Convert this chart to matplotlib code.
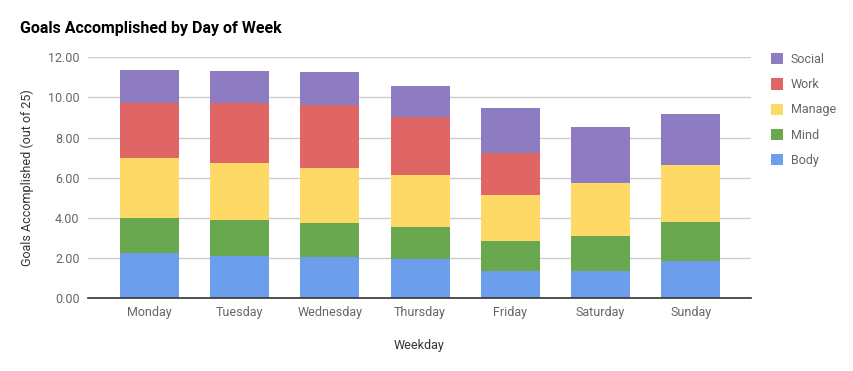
import matplotlib
matplotlib.use("Agg")
import matplotlib.pyplot as plt
from matplotlib.patches import Patch
import numpy as np

days = ["Monday", "Tuesday", "Wednesday", "Thursday", "Friday", "Saturday", "Sunday"]
body = [2.26, 2.11, 2.06, 1.93, 1.36, 1.36, 1.86]
mind = [1.74, 1.79, 1.69, 1.62, 1.50, 1.75, 1.94]
manage = [2.99, 2.84, 2.75, 2.60, 2.29, 2.60, 2.84]
work = [2.74, 2.96, 3.13, 2.89, 2.09, 0.02, 0.00]
social = [1.65, 1.63, 1.65, 1.54, 2.25, 2.81, 2.55]

series = [("Body", body, "#6d9eeb"), ("Mind", mind, "#6aa84f"),
          ("Manage", manage, "#ffd966"), ("Work", work, "#e06666"),
          ("Social", social, "#8e7cc3")]
yticks = [0, 2, 4, 6, 8, 10, 12]

plt.rcParams['font.family'] = ['Roboto', 'DejaVu Sans']

fig = plt.figure(figsize=(8.54, 3.71), dpi=100)
ax = fig.add_axes([88/854, 1-298/371, (751-88)/854, (298-57.3)/371])

x = np.arange(len(days))
bottom = np.zeros(len(days))
for name, vals, col in series:
    v = np.array(vals)
    ax.bar(x, v, bottom=bottom, width=0.655, color=col, label=name, zorder=2, linewidth=0)
    bottom += v

ax.set_xlim(-0.682, 6.67)
ax.set_ylim(0, 12)
ax.set_yticks(yticks)
ax.set_yticklabels([f"{t:.2f}" for t in yticks])
ax.set_xticks(x)
ax.set_xticklabels(days)
ax.grid(axis='y', color='#cccccc', linewidth=1, zorder=0)
for s in ['top', 'right', 'left']:
    ax.spines[s].set_visible(False)
ax.spines['bottom'].set_color('#333333')
ax.spines['bottom'].set_linewidth(1.2)
ax.spines['bottom'].set_zorder(3)
ax.tick_params(axis='both', length=0, labelcolor='#666666', labelsize=9)
ax.tick_params(axis='y', pad=6)
ax.tick_params(axis='x', pad=6)

ax.set_xlabel("Weekday", fontsize=9, color='#333333', labelpad=14)
ax.set_ylabel("Goals Accomplished (out of 25)", fontsize=9, color='#333333', labelpad=10)

fig.text(20/854, 1-28/371, "Goals Accomplished by Day of Week", fontsize=11.5,
         fontweight='bold', color='#000000', va='center', ha='left')

handles = [Patch(facecolor=col, edgecolor='none', label=name) for name, vals, col in series][::-1]
leg = fig.legend(handles=handles, loc='upper left', bbox_to_anchor=(766/854, 1-48/371),
                 frameon=False, fontsize=9, handlelength=1.0, handleheight=1.0,
                 labelspacing=0.98, handletextpad=0.6, borderaxespad=0)
for t in leg.get_texts():
    t.set_color('#666666')

fig.savefig("out.png", dpi=100)
